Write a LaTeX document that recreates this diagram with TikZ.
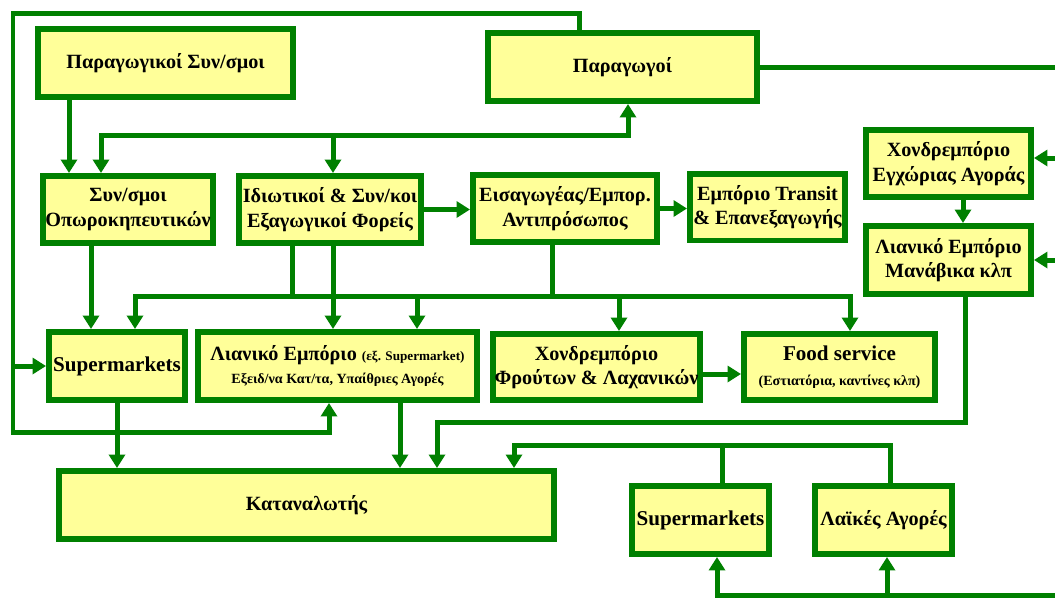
\documentclass[tikz,border=0pt]{standalone}
\usepackage{fontspec}
\setmainfont{Liberation Serif}
\usetikzlibrary{arrows.meta}
\definecolor{gr}{RGB}{0,128,0}
\definecolor{yl}{RGB}{255,255,153}
\begin{document}
\begin{tikzpicture}[x=0.02cm,y=-0.02cm,
  box/.style={draw=gr, fill=yl, line width=0.12cm, inner sep=0pt, align=center,
    font=\bfseries\fontsize{11.5}{14}\selectfont},
  conn/.style={draw=gr, line width=0.1cm},
  arr/.style={conn, -{Triangle[width=0.32cm,length=0.27cm]}},
  arrb/.style={conn, {Triangle[width=0.32cm,length=0.27cm]}-{Triangle[width=0.32cm,length=0.27cm]}},
]
\path[use as bounding box] (0,0) rectangle (1055,599);

% nodes
\node[box, minimum width=5.10cm, minimum height=1.36cm] (A) at (165.5,63) {Παραγωγικοί Συν/σμοι};
\node[box, minimum width=5.38cm, minimum height=1.36cm] (B) at (622.5,67) {Παραγωγοί};
\node[box, minimum width=3.40cm, minimum height=1.34cm] (C) at (128,209.5) {Συν/σμοι\\Οπωροκηπευτικών};
\node[box, minimum width=3.64cm, minimum height=1.34cm] (D) at (330,209.5) {Ιδιωτικοί \& Συν/κοι\\Εξαγωγικοί Φορείς};
\node[box, minimum width=3.68cm, minimum height=1.34cm] (E) at (565,208.5) {Εισαγωγέας/Εμπορ.\\Αντιπρόσωπος};
\node[box, minimum width=3.10cm, minimum height=1.34cm] (F) at (767.5,207) {Εμπόριο Transit\\\& Επανεξαγωγής};
\node[box, minimum width=3.30cm, minimum height=1.34cm] (G) at (948.5,163.5) {Χονδρεμπόριο\\Εγχώριας Αγοράς};
\node[box, minimum width=3.30cm, minimum height=1.36cm] (H) at (948.5,260) {Λιανικό Εμπόριο\\Μανάβικα κλπ};
\node[box, minimum width=2.72cm, minimum height=1.36cm, font=\bfseries\fontsize{12}{14}\selectfont] (I) at (117,366) {Supermarkets};
\node[box, minimum width=5.58cm, minimum height=1.36cm] (J) at (337.5,366)
  {{\fontsize{11.5}{14}\selectfont Λιανικό Εμπόριο} {\fontsize{7.5}{9}\selectfont (εξ. Supermarket)}\\[-1pt]{\fontsize{8}{10}\selectfont Εξειδ/να Κατ/τα, Υπαίθριες Αγορές}};
\node[box, minimum width=4.14cm, minimum height=1.32cm] (K) at (596.5,367) {Χονδρεμπόριο\\Φρούτων \& Λαχανικών};
\node[box, minimum width=3.82cm, minimum height=1.32cm] (L) at (839.5,367)
  {{\fontsize{12}{13}\selectfont Food service}\\{\fontsize{8}{10}\selectfont (Εστιατόρια, καντίνες κλπ)}};
\node[box, minimum width=9.90cm, minimum height=1.36cm] (M) at (306.5,505) {Καταναλωτής};
\node[box, minimum width=2.74cm, minimum height=1.36cm, font=\bfseries\fontsize{12}{14}\selectfont] (N) at (700.5,520) {Supermarkets};
\node[box, minimum width=2.74cm, minimum height=1.36cm] (O) at (883.5,520) {Λαϊκές Αγορές};

% helper coordinates
\coordinate (X13) at (13,0);   \coordinate (X69) at (69,0);
\coordinate (X91) at (91,0);   \coordinate (X101) at (101,0);
\coordinate (X135) at (135,0); \coordinate (X292) at (292,0);
\coordinate (X329) at (329,0); \coordinate (X333) at (333,0);
\coordinate (X400) at (400,0); \coordinate (X417) at (417,0);
\coordinate (X437) at (437,0); \coordinate (X514) at (514,0);
\coordinate (X552) at (552,0); \coordinate (X579) at (579,0);
\coordinate (X619) at (619,0); \coordinate (X628) at (628,0);
\coordinate (X717) at (717,0); \coordinate (X722) at (722,0);
\coordinate (X850) at (850,0); \coordinate (X887) at (887,0);
\coordinate (X890) at (890,0); \coordinate (X963) at (963,0);
\coordinate (X965) at (965,0); \coordinate (X1055) at (1055,0);
\coordinate (Y13) at (0,13);   \coordinate (Y135) at (0,135);
\coordinate (Y158) at (0,158); \coordinate (Y296) at (0,296);
\coordinate (Y374) at (0,374); \coordinate (Y422) at (0,422);
\coordinate (Y432) at (0,432); \coordinate (Y445) at (0,445);
\coordinate (Y595) at (0,595);

% connectors
\draw[arr] (A.south -| X69) -- (C.north -| X69);
\draw[arrb] (C.north -| X101) -- (X101 |- Y135) -- (X628 |- Y135) -- (B.south -| X628);
\draw[arr] (X333 |- Y135) -- (D.north -| X333);
\draw[arr] (B.north -| X579) -- (X579 |- Y13) -- (X13 |- Y13) -- (X13 |- Y432) -- (X329 |- Y432) -- (J.south -| X329);
\draw[arr] (X13 |- I.west) -- (I.west);
\draw[conn] (B.east) -- (B.east -| X1055);
\draw[arr] (X1055 |- Y158) -- (G.east |- Y158);
\draw[arr] (X1055 |- H.east) -- (H.east);
\draw[arr] (G.south -| X963) -- (H.north -| X963);
\draw[arr] (D.east) -- (D.east -| E.west);
\draw[arr] (E.east) -- (E.east -| F.west);
\draw[arr] (C.south -| X91) -- (I.north -| X91);
\draw[arr] (D.south -| X333) -- (J.north -| X333);
\draw[conn] (D.south -| X292) -- (X292 |- Y296);
\draw[conn] (E.south -| X552) -- (X552 |- Y296);
\draw[arrb] (I.north -| X135) -- (X135 |- Y296) -- (X850 |- Y296) -- (L.north -| X850);
\draw[arr] (X417 |- Y296) -- (J.north -| X417);
\draw[arr] (X619 |- Y296) -- (K.north -| X619);
\draw[arr] (K.east |- Y374) -- (L.west |- Y374);
\draw[arr] (I.south) -- (I.south |- M.north);
\draw[arr] (J.south -| X400) -- (M.north -| X400);
\draw[arr] (H.south -| X965) -- (X965 |- Y422) -- (X437 |- Y422) -- (M.north -| X437);
\draw[arr] (N.north -| X722) -- (X722 |- Y445) -- (X514 |- Y445) -- (M.north -| X514);
\draw[conn] (O.north -| X890) -- (X890 |- Y445) -- (X722 |- Y445);
\draw[arr] (X1055 |- Y595) -- (X717 |- Y595) -- (N.south -| X717);
\draw[arr] (X887 |- Y595) -- (O.south -| X887);
\end{tikzpicture}
\end{document}
